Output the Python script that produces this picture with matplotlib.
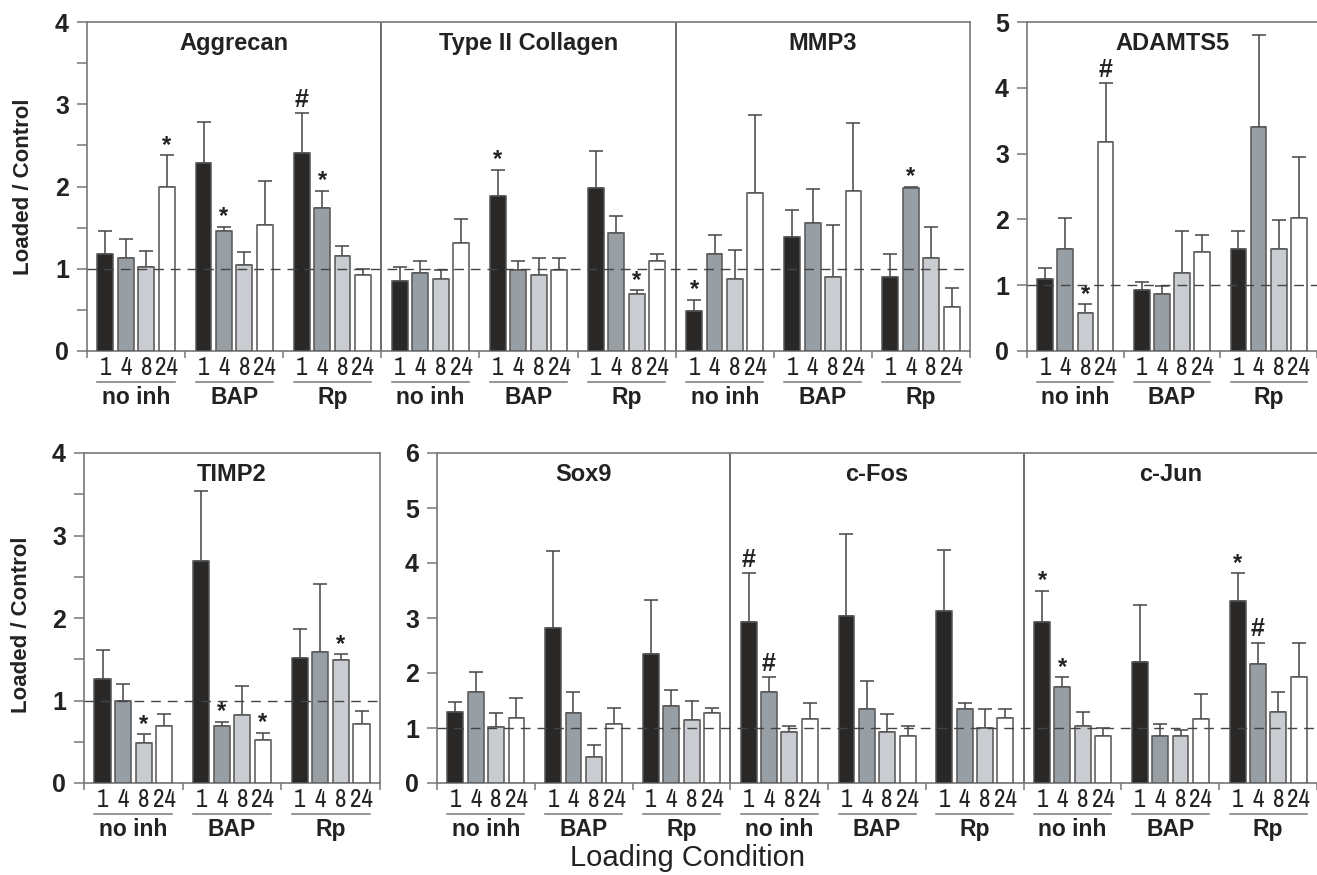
import matplotlib.pyplot as plt
import matplotlib.transforms as mtransforms
from matplotlib import font_manager
import numpy as np

# Time points and inhibitor groups
times = ['1', '4', '8', '24']
groups = ['no inh', 'BAP', 'Rp']

# Mean loaded/control ratio (12 bars per gene: 3 groups x 4 times) and upper error
aggrecan = [1.18, 1.13, 1.02, 2.00, 2.28, 1.46, 1.05, 1.53, 2.41, 1.74, 1.15, 0.92]
aggrecan_err = [0.28, 0.23, 0.20, 0.38, 0.51, 0.05, 0.15, 0.54, 0.48, 0.21, 0.13, 0.08]
aggrecan_sig = ['', '', '', '*', '', '*', '', '', '#', '*', '', '']

col2 = [0.85, 0.95, 0.87, 1.31, 1.89, 0.98, 0.92, 0.98, 1.98, 1.44, 0.69, 1.10]
col2_err = [0.17, 0.15, 0.11, 0.30, 0.31, 0.12, 0.21, 0.15, 0.45, 0.20, 0.05, 0.08]
col2_sig = ['', '', '', '', '*', '', '', '', '', '', '*', '']

mmp3 = [0.49, 1.18, 0.87, 1.92, 1.38, 1.56, 0.90, 1.95, 0.90, 1.98, 1.13, 0.54]
mmp3_err = [0.13, 0.23, 0.36, 0.95, 0.34, 0.41, 0.63, 0.82, 0.28, 0.02, 0.38, 0.23]
mmp3_sig = ['*', '', '', '', '', '', '', '', '', '*', '', '']

adamts5 = [1.09, 1.55, 0.58, 3.17, 0.93, 0.87, 1.19, 1.51, 1.55, 3.40, 1.55, 2.02]
adamts5_err = [0.17, 0.47, 0.13, 0.90, 0.12, 0.12, 0.64, 0.25, 0.28, 1.41, 0.44, 0.93]
adamts5_sig = ['', '', '*', '#', '', '', '', '', '', '', '', '']

timp2 = [1.26, 1.00, 0.48, 0.69, 2.69, 0.69, 0.82, 0.52, 1.51, 1.59, 1.49, 0.72]
timp2_err = [0.35, 0.20, 0.11, 0.15, 0.85, 0.05, 0.36, 0.09, 0.36, 0.82, 0.07, 0.15]
timp2_sig = ['', '', '*', '', '', '*', '', '*', '', '', '*', '']

sox9 = [1.30, 1.65, 1.02, 1.19, 2.81, 1.28, 0.48, 1.08, 2.35, 1.40, 1.14, 1.28]
sox9_err = [0.18, 0.36, 0.26, 0.36, 1.41, 0.37, 0.21, 0.29, 0.97, 0.29, 0.36, 0.09]
sox9_sig = [''] * 12

cfos = [2.92, 1.65, 0.93, 1.16, 3.03, 1.34, 0.92, 0.85, 3.12, 1.34, 1.00, 1.19]
cfos_err = [0.89, 0.27, 0.11, 0.30, 1.50, 0.51, 0.34, 0.19, 1.12, 0.12, 0.34, 0.15]
cfos_sig = ['#', '#', '', '', '', '', '', '', '', '', '', '']

cjun = [2.92, 1.74, 1.04, 0.85, 2.20, 0.85, 0.85, 1.16, 3.31, 2.16, 1.30, 1.92]
cjun_err = [0.58, 0.18, 0.26, 0.15, 1.04, 0.23, 0.12, 0.46, 0.50, 0.39, 0.35, 0.63]
cjun_sig = ['*', '*', '', '', '', '', '', '', '*', '#', '', '']

bar_colors = ['#2a2727', '#979ea4', '#c9ccd0', '#ffffff']
edge = '#555555'
FONT = 'Liberation Sans'

# look for a condensed face for the time labels
narrow_font = None
narrow_stretch = 'normal'
for f in font_manager.fontManager.ttflist:
    if 'Narrow' in f.name or 'Condensed' in f.name:
        narrow_font = f.name
        break
if narrow_font is None:
    for f in font_manager.fontManager.ttflist:
        if f.stretch in ('condensed', 'semi-condensed', 'extra-condensed') or \
                (isinstance(f.stretch, int) and f.stretch < 500):
            narrow_font = f.name
            narrow_stretch = 'condensed'
            break
if narrow_font is None:
    narrow_font = FONT

PANEL_W = 14.4
GROUP_W = 4.8
BAR_W = 0.78

fig = plt.figure(figsize=(13.17, 8.75), dpi=100)
plt.rcParams['font.family'] = FONT


def draw_group(ax, genes, ymax, minor_half, right_spine=True):
    n = len(genes)
    xmax = n * PANEL_W
    trans = mtransforms.blended_transform_factory(ax.transData, ax.transAxes)
    for p, (name, vals, errs, sig) in enumerate(genes):
        for g in range(3):
            for b in range(4):
                i = g * 4 + b
                x = p * PANEL_W + g * GROUP_W + b + 0.9
                ax.bar(x, vals[i], width=BAR_W, color=bar_colors[b], edgecolor=edge,
                       linewidth=1.1, zorder=3)
                ax.errorbar(x, vals[i], yerr=[[0], [errs[i]]], fmt='none', ecolor='#444444',
                            elinewidth=1.1, capsize=5, capthick=1.1, zorder=2)
                if sig[i]:
                    top = vals[i] + errs[i]
                    if sig[i] == '#':
                        ax.annotate('#', (x, top), xytext=(0, 1), textcoords='offset points',
                                    ha='center', va='bottom', fontsize=18, fontweight='bold',
                                    color='#222222')
                    else:
                        ax.annotate('*', (x, top), xytext=(0, -1), textcoords='offset points',
                                    ha='center', va='bottom', fontsize=17, fontweight='bold',
                                    color='#222222')
                # time label under each bar
                ax.text(x, -0.05, times[b], transform=trans, ha='center', va='center',
                        fontsize=18, family=narrow_font, fontstretch=narrow_stretch,
                        color='#222222', clip_on=False)
            # group underline and label
            x0 = p * PANEL_W + g * GROUP_W + 0.9 - BAR_W / 2
            x1 = p * PANEL_W + g * GROUP_W + 3.9 + BAR_W / 2
            ax.plot([x0, x1], [-0.094, -0.094], transform=trans, color='#777777',
                    linewidth=1.1, clip_on=False)
            ax.text((x0 + x1) / 2, -0.142, groups[g], transform=trans, ha='center',
                    va='center', fontsize=16.5, fontweight='bold', color='#222222')
        ax.text(p * PANEL_W + PANEL_W / 2, 0.935, name, transform=trans, ha='center',
                va='center', fontsize=17, fontweight='bold', color='#222222')
        if p > 0:
            ax.axvline(p * PANEL_W, color='#444444', linewidth=1.1, zorder=1)

    ax.axhline(1.0, color='#444444', linewidth=1.0, linestyle=(0, (7, 5)), zorder=4)
    ax.set_xlim(0, xmax)
    ax.set_ylim(0, ymax)
    ax.set_yticks(range(ymax + 1))
    ax.set_yticklabels([str(v) for v in range(ymax + 1)], fontsize=18, fontweight='bold',
                       color='#222222')
    if minor_half:
        ax.set_yticks(np.arange(0.5, ymax, 1.0), minor=True)
    ax.set_xticks([])
    ax.set_xticks(np.arange(0, xmax + 0.01, GROUP_W), minor=True)
    ax.tick_params(axis='y', which='both', direction='out', length=7, width=1.1,
                   color='#777777', pad=6)
    ax.tick_params(axis='x', which='minor', direction='out', length=5, width=1.1,
                   color='#777777')
    for side in ['left', 'bottom', 'top', 'right']:
        ax.spines[side].set_color('#777777')
        ax.spines[side].set_linewidth(1.2)
    if not right_spine:
        ax.spines['right'].set_visible(False)


ax1 = fig.add_axes([87 / 1317, 1 - 351 / 875, 883 / 1317, 329 / 875])
draw_group(ax1, [('Aggrecan', aggrecan, aggrecan_err, aggrecan_sig),
                 ('Type II Collagen', col2, col2_err, col2_sig),
                 ('MMP3', mmp3, mmp3_err, mmp3_sig)], 4, True)

ax2 = fig.add_axes([1027 / 1317, 1 - 351 / 875, 290 / 1317, 329 / 875])
draw_group(ax2, [('ADAMTS5', adamts5, adamts5_err, adamts5_sig)], 5, False, right_spine=False)

ax3 = fig.add_axes([84 / 1317, 1 - 783 / 875, 296 / 1317, 330 / 875])
draw_group(ax3, [('TIMP2', timp2, timp2_err, timp2_sig)], 4, True)

ax4 = fig.add_axes([437 / 1317, 1 - 783 / 875, 880 / 1317, 330 / 875])
draw_group(ax4, [('Sox9', sox9, sox9_err, sox9_sig),
                 ('c-Fos', cfos, cfos_err, cfos_sig),
                 ('c-Jun', cjun, cjun_err, cjun_sig)], 6, False, right_spine=False)

fig.text(24 / 1317, 1 - 187 / 875, 'Loaded / Control', rotation=90, ha='center', va='center',
         fontsize=16, fontweight='bold', color='#222222')
fig.text(22 / 1317, 1 - 625 / 875, 'Loaded / Control', rotation=90, ha='center', va='center',
         fontsize=16, fontweight='bold', color='#222222')
fig.text(688 / 1317, 1 - 858 / 875, 'Loading Condition', ha='center', va='center',
         fontsize=21, color='#222222')

fig.savefig('out.png', dpi=100)
